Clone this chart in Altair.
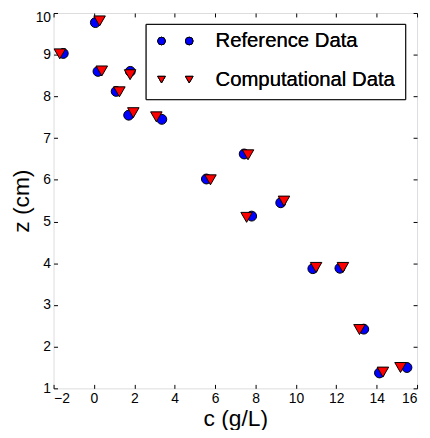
import altair as alt
import pandas as pd

# Reference data (blue circles)
ref_c = [0.07, -1.52, 0.20, 1.80, 1.10, 1.72, 3.36, 5.57, 7.44, 9.25, 7.81, 10.84, 12.18, 13.36, 14.14, 15.50]
ref_z = [9.77, 9.03, 8.60, 8.60, 8.12, 7.55, 7.45, 6.02, 6.62, 5.45, 5.13, 3.87, 3.88, 2.42, 1.37, 1.50]
# Computational data (red triangles)
comp_c = [0.28, -1.69, 0.39, 1.79, 1.26, 1.95, 3.09, 5.77, 7.63, 9.41, 7.56, 11.00, 12.33, 13.15, 14.31, 15.18]
comp_z = [9.81, 9.02, 8.61, 8.52, 8.11, 7.61, 7.51, 6.00, 6.60, 5.49, 5.10, 3.90, 3.90, 2.41, 1.39, 1.50]

x_ticks = list(range(-2, 17, 2))
y_ticks = list(range(1, 11))
legend_labels = ["Reference Data", "Computational Data"]

ref = pd.DataFrame({"c": ref_c, "z": ref_z})
comp = pd.DataFrame({"c": comp_c, "z": comp_z})

W, H = 367, 379
FONT = "Liberation Sans"
BLUE = "#0000ff"
RED = "#ff0000"
inward = alt.ExprRef(expr="-4")

xs = alt.Scale(domain=[-2, 16], nice=False, zero=False)
ys = alt.Scale(domain=[1, 10], nice=False, zero=False)

common_axis = dict(grid=False, domain=False, tickSize=inward, tickColor="black",
                   tickWidth=1, labelFont=FONT, labelFontSize=14, labelColor="black",
                   titleFont=FONT, titleFontSize=23, titleFontWeight="normal",
                   titleColor="black")

x_bottom = alt.Axis(orient="bottom", values=x_ticks, title="c (g/L)", labelPadding=7,
                    titlePadding=2, **common_axis)
y_left = alt.Axis(
    orient="left", values=y_ticks, title="z (cm)", labelPadding=7, titlePadding=2,
    labelBaseline={"condition": {"test": "datum.value == 10", "value": "top"}, "value": "middle"},
    labelOffset={"condition": {"test": "datum.value == 10", "value": -2},
                 "value": 0},
    **common_axis,
)
x_top = alt.Axis(orient="top", values=x_ticks, title=None, labels=False, **common_axis)
y_right = alt.Axis(orient="right", values=y_ticks, title=None, labels=False, **common_axis)

ref_layer = alt.Chart(ref).mark_point(
    shape="circle", filled=True, fill=BLUE, stroke="black", strokeWidth=1, size=100, opacity=1
).encode(
    x=alt.X("c:Q", scale=xs, axis=x_bottom),
    y=alt.Y("z:Q", scale=ys, axis=y_left),
)

comp_layer = alt.Chart(comp).mark_point(
    shape="triangle-down", filled=True, fill=RED, stroke="black", strokeWidth=1, size=135, opacity=1
).encode(
    x=alt.X("c:Q", scale=xs, axis=x_top),
    y=alt.Y("z:Q", scale=ys, axis=y_right),
)

# Legend (drawn as a framed box with two symbols per entry, like the original)
leg_df = pd.DataFrame({"label": legend_labels})
legend_box = alt.Chart(leg_df).mark_rect(
    fill="white", stroke="black", strokeWidth=1
).encode(x=alt.value(93.5), x2=alt.value(355.5), y=alt.value(11.5), y2=alt.value(87.5))

def leg_sym(shape, color, xv, yv, size):
    return alt.Chart(leg_df).mark_point(
        shape=shape, filled=True, fill=color, stroke="black", strokeWidth=1, size=size, opacity=1
    ).encode(x=alt.value(xv), y=alt.value(yv))

def leg_text(text, yv):
    return alt.Chart(leg_df).mark_text(
        text=text, align="left", baseline="middle", font=FONT, fontSize=20.5, color="black"
    ).encode(x=alt.value(163.5), y=alt.value(yv))

legend_layers = [
    legend_box,
    leg_sym("circle", BLUE, 109, 28.3, 60),
    leg_sym("circle", BLUE, 137, 28.3, 60),
    leg_sym("triangle-down", RED, 109, 67.3, 60),
    leg_sym("triangle-down", RED, 137, 67.3, 60),
    leg_text(legend_labels[0], 28.3),
    leg_text(legend_labels[1], 67.3),
]

chart = alt.layer(ref_layer, comp_layer, *legend_layers).resolve_axis(
    x="independent", y="independent"
).properties(
    width=W, height=H,
    autosize=alt.AutoSizeParams(type="none"),
    padding={"left": 46, "top": 3, "right": 5, "bottom": 40},
).configure_view(stroke="black", strokeWidth=1).configure(background="white")

chart.save("out.html", embed_options={"renderer": "svg", "actions": False})
